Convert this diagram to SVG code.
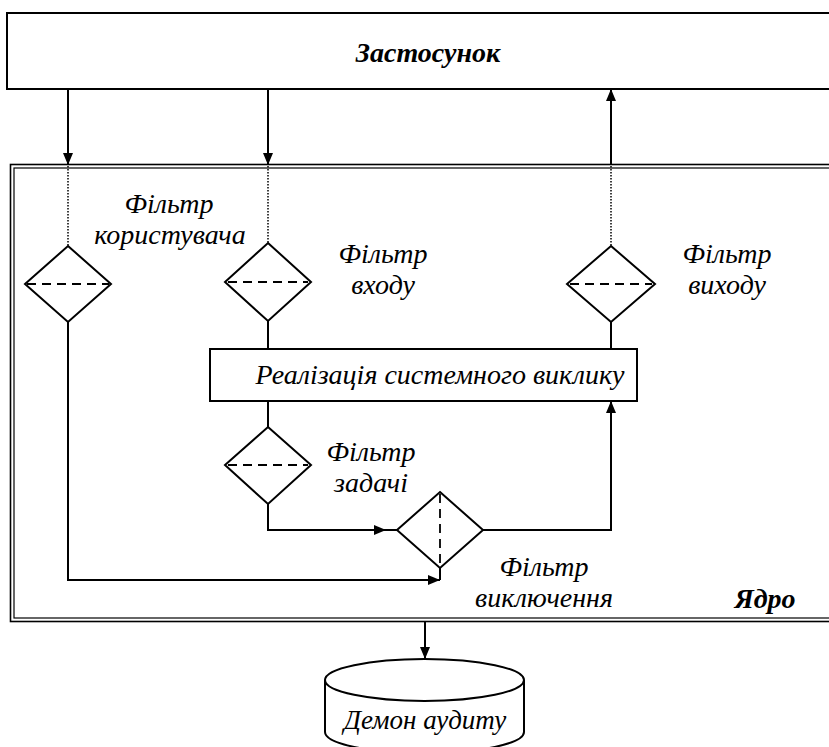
<svg xmlns="http://www.w3.org/2000/svg" width="829" height="747" viewBox="0 0 829 747">
<style>
.ln{fill:none;stroke:#000;stroke-width:2}
.dot{fill:none;stroke:#000;stroke-width:1.5;stroke-dasharray:1.5 1.5}
.dash{fill:none;stroke:#000;stroke-width:1.8;stroke-dasharray:9 6}
.box{fill:#fff;stroke:#000;stroke-width:2}
.dia{fill:#fff;stroke:#000;stroke-width:2}
text{font-family:'Liberation Serif','DejaVu Serif',serif;fill:#000;text-anchor:middle}
.t{font-style:italic;font-size:28px}
.tb{font-style:italic;font-weight:bold;font-size:28px}
</style>
<defs>
<marker id="ah" markerWidth="12" markerHeight="10" refX="12" refY="5" orient="auto" markerUnits="userSpaceOnUse">
<path d="M0,0 L12,5 L0,10 Z" fill="#000"/>
</marker>
</defs>
<rect width="829" height="747" fill="#fff"/>

<g id="app">
<rect class="box" x="7" y="13" width="840" height="76"/>
<text class="tb" x="428" y="62">Застосунок</text>
</g>

<g id="kernel">
<rect x="10.5" y="164.5" width="840" height="457" fill="none" stroke="#000" stroke-width="1.6"/>
<rect x="14" y="168" width="840" height="450" fill="none" stroke="#000" stroke-width="1.2"/>
<text class="tb" x="765" y="608">Ядро</text>
</g>

<g id="connectors">
<line class="ln" x1="68" y1="89" x2="68" y2="165" marker-end="url(#ah)"/>
<line class="ln" x1="268" y1="89" x2="268" y2="165" marker-end="url(#ah)"/>
<line class="ln" x1="611" y1="165" x2="611" y2="89" marker-end="url(#ah)"/>
<line class="dot" x1="68" y1="166" x2="68" y2="246"/>
<line class="dot" x1="268" y1="166" x2="268" y2="243"/>
<line class="dot" x1="611" y1="166" x2="611" y2="246"/>
<line class="ln" x1="268" y1="321" x2="268" y2="349"/>
<line class="ln" x1="611" y1="322" x2="611" y2="349"/>
<line class="ln" x1="268" y1="401" x2="268" y2="427"/>
<polyline class="ln" points="268,504 268,530 386,530" marker-end="url(#ah)"/>
<line class="ln" x1="384" y1="530" x2="397" y2="530"/>
<polyline class="ln" points="483,530 611,530 611,401" marker-end="url(#ah)"/>
<polyline class="ln" points="68,322 68,580 440,580" marker-end="url(#ah)"/>
<line class="ln" x1="440" y1="568" x2="440" y2="580"/>
<line class="ln" x1="425" y1="622" x2="425" y2="659" marker-end="url(#ah)"/>
</g>

<g id="user-filter">
<polygon class="dia" points="68,246 111,284 68,322 25,284"/>
<line class="dash" x1="27" y1="284" x2="109" y2="284"/>
<text class="t" x="169" y="213">Фільтр</text>
<text class="t" x="170" y="244">користувача</text>
</g>

<g id="input-filter">
<polygon class="dia" points="268,243 311,282 268,321 225,282"/>
<line class="dash" x1="228" y1="282" x2="308" y2="282"/>
<text class="t" x="383" y="263">Фільтр</text>
<text class="t" x="383" y="294">входу</text>
</g>

<g id="output-filter">
<polygon class="dia" points="611,246 655,284 611,322 567,284"/>
<line class="dash" x1="570" y1="284" x2="652" y2="284"/>
<text class="t" x="727" y="263">Фільтр</text>
<text class="t" x="727" y="294">виходу</text>
</g>

<g id="syscall">
<rect class="box" x="210" y="349" width="427" height="52"/>
<text class="t" x="440" y="384">Реалізація системного виклику</text>
</g>

<g id="task-filter">
<polygon class="dia" points="268,427 311,465 268,504 225,465"/>
<line class="dash" x1="228" y1="465" x2="308" y2="465"/>
<text class="t" x="371" y="461">Фільтр</text>
<text class="t" x="371" y="492">задачі</text>
</g>

<g id="exclusion-filter">
<polygon class="dia" points="440,492 483,530 440,568 397,530"/>
<line class="dash" x1="440" y1="494" x2="440" y2="566"/>
<text class="t" x="544" y="576">Фільтр</text>
<text class="t" x="544" y="607">виключення</text>
</g>

<g id="audit-daemon">
<path class="box" d="M325,680 L325,732 A99,21 0 0 0 524,732 L524,680"/>
<ellipse class="box" cx="424.5" cy="680" rx="99.5" ry="21"/>
<text class="t" x="425" y="729" style="font-size:27px">Демон аудиту</text>
</g>
</svg>
